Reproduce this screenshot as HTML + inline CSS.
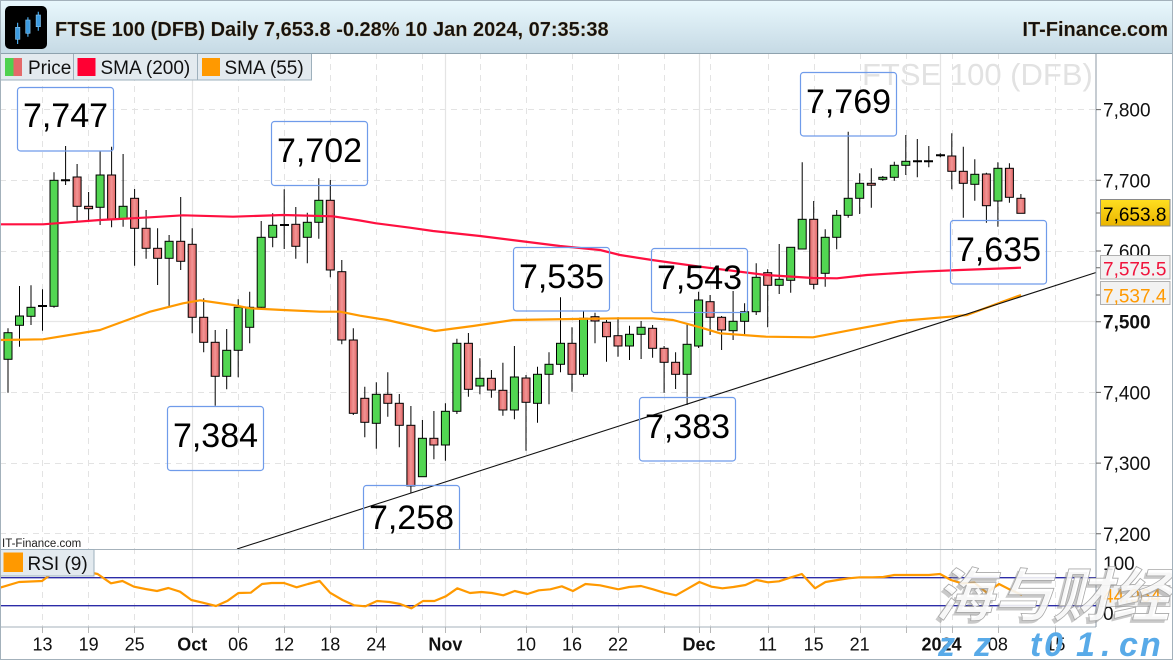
<!DOCTYPE html>
<html><head><meta charset="utf-8"><style>
html,body{margin:0;padding:0;background:#fff;width:1173px;height:660px;overflow:hidden}
svg{display:block}
.g{fill:#52d652;stroke:#000;stroke-width:1}
.r{fill:url(#rg);stroke:#000;stroke-width:1}
</style></head><body>
<svg width="1173" height="660" viewBox="0 0 1173 660" xmlns="http://www.w3.org/2000/svg" font-family="Liberation Sans, Arial, sans-serif">
<defs>
<linearGradient id="tb" x1="0" y1="0" x2="0" y2="1"><stop offset="0" stop-color="#e9f8fd"/><stop offset="1" stop-color="#c6dae5"/></linearGradient>
<linearGradient id="rg" x1="0" y1="0" x2="1" y2="0"><stop offset="0" stop-color="#e06464"/><stop offset="0.5" stop-color="#f29494"/><stop offset="1" stop-color="#e06464"/></linearGradient>
<linearGradient id="yb" x1="0" y1="0" x2="0" y2="1"><stop offset="0" stop-color="#ffdf20"/><stop offset="1" stop-color="#eab400"/></linearGradient>
<clipPath id="pc"><rect x="0" y="53" width="1096" height="496"/></clipPath>
</defs>
<rect width="1173" height="660" fill="#fff"/>

<!-- grid horizontal -->
<g stroke="#e3e3e3" stroke-width="1" stroke-dasharray="6,5" fill="none">
<path d="M0 109.5H1096M0 180.5H1096M0 251.5H1096M0 392.5H1096M0 463.5H1096M0 533.5H1096"/>
</g>
<path d="M0 321.5H1096" stroke="#e6e6e6" stroke-width="1.2"/>
<!-- grid vertical -->
<g stroke="#e3e3e3" stroke-width="1" stroke-dasharray="6,5" fill="none">
<path d="M42.5 53V627M88.5 53V627M134.5 53V627M238.5 53V627M284.5 53V627M330.5 53V627M376.5 53V627M422.5 53V627M480.5 53V627M526.5 53V627M572.5 53V627M618.5 53V627M664.5 53V627M710.5 53V627M768.5 53V627M814.5 53V627M860.5 53V627M906.5 53V627M952.5 53V627M998.5 53V627M1055.5 53V627"/>
</g>
<path d="M192.5 53V627M445.5 53V627M699.5 53V627M940.5 53V627" stroke="#e4e4e4" stroke-width="1.2"/>
<!-- x tick marks -->
<path d="M42.5 627V633M88.5 627V633M134.5 627V633M192.5 627V633M238.5 627V633M284.5 627V633M330.5 627V633M376.5 627V633M422.5 627V633M445.5 627V633M480.5 627V633M526.5 627V633M572.5 627V633M618.5 627V633M664.5 627V633M699.5 627V633M710.5 627V633M768.5 627V633M814.5 627V633M860.5 627V633M906.5 627V633M940.5 627V633M952.5 627V633M998.5 627V633M1055.5 627V633" stroke="#b8b8b8" stroke-width="1"/>

<!-- watermark -->
<text x="862" y="85" font-size="31" fill="#e2e2e2">FTSE 100 (DFB)</text>

<!-- wicks -->
<path stroke="#000" stroke-width="1" fill="none" d="M8 328.3V392.7M19.5 286V346.7M31 285.3V325M42.5 289.3V330.7M54 172.3V307.7M65.6 146V185M77.1 164V221.7M88.6 192V220M100.1 150.7V225M111.6 146.7V227.3M123.1 154V226.7M134.6 189V265.7M146.1 210V258.7M157.6 228.3V285M169.1 235V306.7M180.7 197V270M192.2 228.3V333.3M203.7 298.3V352.3M215.2 330V405.7M226.7 329V389.3M238.2 299.3V377.3M249.7 291.7V343.3M261.2 221V308.3M272.7 213.3V247.3M284.2 189.3V249M295.8 207V258.7M307.3 212.7V263.3M318.8 178.3V238.7M330.3 180V277.3M341.8 260V344.3M353.3 328.3V415M364.8 386.7V437.3M376.3 382.3V448.7M387.8 372.3V416.7M399.3 394V447.3M410.9 406V493.3M422.4 420V476.7M433.9 411V459.3M445.4 403.3V460.7M456.9 338.7V414M468.4 333V396.7M479.9 358.3V394.3M491.4 370V397.7M502.9 362.7V415.7M514.4 346V419.3M526 375V450.7M537.5 366.7V422.7M549 352.3V404.3M560.5 297.3V372.3M572 327.3V391.7M583.5 310.7V376.7M595 312.7V343.3M606.5 320V361.7M618 317.3V356.7M629.5 325.7V360M641.1 321V359M652.6 325V357.7M664.1 346V392.7M675.6 352.3V389M687.1 324.3V405M698.6 291.7V348M710.1 295V335M721.6 316V350M733.1 291V340M744.6 303.3V335M756.2 263.3V315M767.7 269.3V327.3M779.2 244V294M790.7 247.3V292.7M802.2 162.3V249M813.7 201V289.3M825.2 229.3V286.7M836.7 210V249.3M848.2 131.7V217.7M859.7 173.3V214M871.3 168.3V207.7M882.8 176V180.7M894.3 161.7V180.7M905.8 135V175M917.3 139V177.3M928.8 146V167.3M940.3 153.3V157.3M951.8 133.3V189.3M963.3 146.7V217.7M974.8 159.3V200.7M986.4 172.7V222.7M997.9 162.3V226.7M1009.4 163.3V202.7M1020.9 194V213.3"/>
<!-- doji -->
<path stroke="#000" stroke-width="2" d="M38 306H47M61 180.3H70M280 225H289M913 161.3H922M924 161.3H933M936 155.3H945"/>
<!-- bodies -->
<g>
<rect class="g" x="4" y="332.7" width="8" height="26.6"/>
<rect class="g" x="15.5" y="316" width="8" height="9.3"/>
<rect class="g" x="27" y="307.3" width="8" height="9"/>
<rect class="g" x="50" y="180.3" width="8" height="126"/>
<rect class="r" x="73.1" y="177" width="8" height="29.3"/>
<rect class="r" x="84.6" y="206.3" width="8" height="2.4"/>
<rect class="g" x="96.1" y="175" width="8" height="32.3"/>
<rect class="r" x="107.6" y="175" width="8" height="44"/>
<rect class="g" x="119.1" y="206.3" width="8" height="12.7"/>
<rect class="r" x="130.6" y="198.3" width="8" height="30"/>
<rect class="r" x="142.1" y="228.3" width="8" height="20"/>
<rect class="r" x="153.6" y="248.3" width="8" height="10"/>
<rect class="g" x="165.1" y="241.3" width="8" height="17"/>
<rect class="r" x="176.7" y="241.3" width="8" height="20"/>
<rect class="r" x="188.2" y="244.3" width="8" height="73"/>
<rect class="r" x="199.7" y="317.3" width="8" height="25"/>
<rect class="r" x="211.2" y="342.3" width="8" height="34"/>
<rect class="g" x="222.7" y="350.3" width="8" height="26"/>
<rect class="g" x="234.2" y="307.3" width="8" height="43"/>
<rect class="g" x="245.7" y="307.3" width="8" height="20"/>
<rect class="g" x="257.2" y="237.3" width="8" height="70"/>
<rect class="g" x="268.7" y="225.3" width="8" height="12"/>
<rect class="r" x="291.8" y="224.3" width="8" height="22"/>
<rect class="g" x="303.3" y="222.3" width="8" height="15"/>
<rect class="g" x="314.8" y="200.3" width="8" height="22"/>
<rect class="r" x="326.3" y="200.3" width="8" height="69.7"/>
<rect class="r" x="337.8" y="271.7" width="8" height="68.3"/>
<rect class="r" x="349.3" y="340" width="8" height="73.3"/>
<rect class="r" x="360.8" y="398.3" width="8" height="24"/>
<rect class="g" x="372.3" y="394.3" width="8" height="29"/>
<rect class="r" x="383.8" y="394.3" width="8" height="9"/>
<rect class="r" x="395.3" y="403.3" width="8" height="22"/>
<rect class="r" x="406.9" y="425.3" width="8" height="60.7"/>
<rect class="g" x="418.4" y="438.3" width="8" height="38.4"/>
<rect class="r" x="429.9" y="438.3" width="8" height="6.7"/>
<rect class="g" x="441.4" y="411.3" width="8" height="33.7"/>
<rect class="g" x="452.9" y="343.3" width="8" height="68"/>
<rect class="r" x="464.4" y="343.3" width="8" height="46"/>
<rect class="g" x="475.9" y="378.3" width="8" height="7.7"/>
<rect class="r" x="487.4" y="378.3" width="8" height="11.7"/>
<rect class="r" x="498.9" y="390.3" width="8" height="19.7"/>
<rect class="g" x="510.4" y="377" width="8" height="33"/>
<rect class="r" x="522" y="378" width="8" height="24.3"/>
<rect class="g" x="533.5" y="374.3" width="8" height="29"/>
<rect class="g" x="545" y="364.3" width="8" height="10"/>
<rect class="g" x="556.5" y="343.3" width="8" height="21"/>
<rect class="r" x="568" y="343.3" width="8" height="31"/>
<rect class="g" x="579.5" y="318.3" width="8" height="56"/>
<rect class="r" x="591" y="316.7" width="8" height="4.3"/>
<rect class="r" x="602.5" y="322.3" width="8" height="14.4"/>
<rect class="r" x="614" y="335.7" width="8" height="10.3"/>
<rect class="g" x="625.5" y="334.3" width="8" height="11.7"/>
<rect class="g" x="637.1" y="327.3" width="8" height="7"/>
<rect class="r" x="648.6" y="328.3" width="8" height="20"/>
<rect class="r" x="660.1" y="348.3" width="8" height="14"/>
<rect class="r" x="671.6" y="362.3" width="8" height="12"/>
<rect class="g" x="683.1" y="344.3" width="8" height="30"/>
<rect class="g" x="694.6" y="300" width="8" height="46"/>
<rect class="r" x="706.1" y="301.7" width="8" height="15.6"/>
<rect class="r" x="717.6" y="317.3" width="8" height="12.7"/>
<rect class="g" x="729.1" y="321.3" width="8" height="9.4"/>
<rect class="g" x="740.6" y="311.7" width="8" height="9.6"/>
<rect class="g" x="752.2" y="277.3" width="8" height="34.4"/>
<rect class="r" x="763.7" y="272.7" width="8" height="12.6"/>
<rect class="g" x="775.2" y="279.3" width="8" height="6"/>
<rect class="g" x="786.7" y="247.3" width="8" height="33"/>
<rect class="g" x="798.2" y="219.3" width="8" height="29.7"/>
<rect class="r" x="809.7" y="219.3" width="8" height="65"/>
<rect class="g" x="821.2" y="237.3" width="8" height="36"/>
<rect class="g" x="832.7" y="215.3" width="8" height="22"/>
<rect class="g" x="844.2" y="198.3" width="8" height="17"/>
<rect class="g" x="855.7" y="183.3" width="8" height="15"/>
<rect class="r" x="867.3" y="183.3" width="8" height="1.9"/>
<rect class="g" x="878.8" y="177.3" width="8" height="2"/>
<rect class="g" x="890.3" y="165.3" width="8" height="12"/>
<rect class="g" x="901.8" y="161.3" width="8" height="4"/>
<rect class="r" x="947.8" y="156" width="8" height="15.3"/>
<rect class="r" x="959.3" y="171.3" width="8" height="12"/>
<rect class="g" x="970.8" y="174.3" width="8" height="10"/>
<rect class="r" x="982.4" y="174" width="8" height="31.7"/>
<rect class="g" x="993.9" y="168.3" width="8" height="32.7"/>
<rect class="r" x="1005.4" y="168.3" width="8" height="29"/>
<rect class="r" x="1016.9" y="198.3" width="8" height="15"/>
</g>

<!-- SMA 200 -->
<polyline fill="none" stroke="#ff1040" stroke-width="2.2" stroke-linejoin="round" points="0,224.3 43,224.3 100,220 150,217.3 183,215.3 233,216.7 283,215 333,216.3 360,220.5 376,223.3 410,227.7 433,231 480,236 520,241 560,246 600,250 620,255 652,260 700,266.7 766,275 813,278 837,278.3 867,275 920,271.7 960,270 1021,267.7"/>
<!-- SMA 55 -->
<polyline fill="none" stroke="#ff9900" stroke-width="2.2" stroke-linejoin="round" points="0,340 43,339.3 100,330 150,311.7 183,303.3 200,300.3 233,305 250,308.3 283,310 320,311.7 340,311.7 360,315.7 387,320 435,331 473,326 513,320 573,319 620,318.3 653,318.3 673,320 700,327.3 720,333.3 766,336.7 813,337.3 860,328.3 900,321 950,316.7 967,315 1000,302.7 1021,295"/>
<!-- trendline -->
<line x1="237" y1="549" x2="1096" y2="272.5" stroke="#111" stroke-width="1.1"/>

<!-- annotation boxes -->
<g fill="none" stroke="#6f9bea" stroke-width="1.2" clip-path="url(#pc)">
<rect x="17.5" y="87.5" width="96" height="63.5" rx="3"/>
<rect x="271.5" y="121.5" width="96" height="64" rx="3"/>
<rect x="800.5" y="72.5" width="96" height="63.5" rx="3"/>
<rect x="513.5" y="247.5" width="96" height="63.5" rx="3"/>
<rect x="651.5" y="248.5" width="96" height="64" rx="3"/>
<rect x="167.5" y="406.5" width="96" height="64" rx="3"/>
<rect x="639.5" y="397.5" width="96" height="63.5" rx="3"/>
<rect x="363.5" y="485.5" width="96" height="72" rx="3"/>
<rect x="950.5" y="220.5" width="96" height="63.5" rx="3"/>
</g>
<g font-size="34" fill="#000" text-anchor="middle">
<text x="65.5" y="127">7,747</text>
<text x="319.5" y="162">7,702</text>
<text x="848.5" y="113">7,769</text>
<text x="561.5" y="288">7,535</text>
<text x="699.5" y="289">7,543</text>
<text x="215.5" y="447">7,384</text>
<text x="687.5" y="438">7,383</text>
<text x="411.5" y="529">7,258</text>
<text x="998.5" y="261">7,635</text>
</g>

<!-- panel separators / axes -->
<path d="M0 549.5H1096M0 627H1096" stroke="#a6b2bb" stroke-width="1"/>
<path d="M1096 53V627" stroke="#8c99a4" stroke-width="1"/>
<text x="2" y="547" font-size="11.5" fill="#222">IT-Finance.com</text>

<!-- RSI -->
<path d="M0 577.7H1096M0 605.7H1096" stroke="#2c2ca8" stroke-width="1.3"/>
<polyline fill="none" stroke="#ff9900" stroke-width="2.2" stroke-linejoin="round" points="0,587.7 19,582 42,581 54,572 65,567 77,570 88,572 97.6,574 111,583.3 122.5,581 134,586.7 145.4,589 157,591 168.4,588 180,591.7 191.4,600 202.8,602.7 216,606 227.7,600.7 238.4,593 250.7,592.7 262,584 271.7,583 284,583 296.6,587.3 308,584 319.6,581 330,592.7 342.5,600 354,605.3 365.5,606.3 377,601 389.6,602 400,604 411.4,608.3 423,601 434.4,601 445.8,596.3 457.3,588.3 470,593 481.4,592 491.8,593 503.3,595.3 514.7,591 527.4,594 538.8,590.3 550.3,589.3 561.8,586.3 572.9,591 585.5,584 600,585.3 618.3,589.3 629.2,587 641,586 653,589.3 664,592.7 676,595.3 687.7,588.7 699.4,582 711.5,586.7 722.4,588.3 733.4,587 745.5,585 756.4,580 768,582.3 779,581.3 790,577.7 801.8,574 815,588.3 825.5,582 837.6,580 848.5,578.3 860,577.3 872.3,577.3 883.3,577 894.2,575 907,575 918,575 929,575 940,574 951,580 961.8,583.3 974.6,582.7 986.7,592.7 999,584 1009.4,589.3 1022,595"/>

<!-- legends -->
<g stroke="#9eb0bc" stroke-width="1" fill="#e3eaef">
<rect x="0.5" y="53.5" width="73" height="26.5"/>
<rect x="73.5" y="53.5" width="124" height="26.5"/>
<rect x="197.5" y="53.5" width="114" height="26.5"/>
<rect x="0.5" y="549.5" width="93.5" height="26.5"/>
</g>
<rect x="5" y="58" width="8.5" height="18" fill="#4fd14f"/>
<rect x="13.5" y="58" width="8.5" height="18" fill="#e46a6a"/>
<rect x="77.5" y="58" width="18" height="18" fill="#ff0033"/>
<rect x="202" y="58" width="18" height="18" fill="#ff9900"/>
<rect x="3.5" y="552.5" width="19.5" height="19.5" fill="#ff9900"/>
<g font-size="19" fill="#111">
<text x="28" y="74">Price</text>
<text x="100.5" y="74">SMA (200)</text>
<text x="224.5" y="74">SMA (55)</text>
<text x="27.5" y="570">RSI (9)</text>
</g>

<!-- right axis -->
<path d="M1096 109.6H1101M1096 180.3H1101M1096 213H1101M1096 251H1101M1096 267.7H1101M1096 295H1101M1096 321.7H1101M1096 392.4H1101M1096 463.1H1101M1096 533.8H1101M1096 595H1101" stroke="#666" stroke-width="1"/>
<g font-size="19" fill="#111">
<text x="1103" y="116.6">7,800</text>
<text x="1103" y="187.3">7,700</text>
<text x="1103" y="258">7,600</text>
<text x="1103" y="328.7" font-weight="bold">7,500</text>
<text x="1103" y="399.4">7,400</text>
<text x="1103" y="470">7,300</text>
<text x="1103" y="540.8">7,200</text>
<text x="1103" y="570">100</text>
<text x="1103" y="620">0</text>
</g>
<rect x="1100.5" y="199.5" width="69.5" height="26.5" fill="url(#yb)" stroke="#8a8a8a"/>
<text x="1103" y="221" font-size="19" fill="#000">7,653.8</text>
<rect x="1100.5" y="255.5" width="69.5" height="23.5" fill="#f2f2f2" stroke="#b0b0b0"/>
<text x="1103" y="275.7" font-size="19" fill="#f0143c">7,575.5</text>
<rect x="1100.5" y="281.5" width="69.5" height="23" fill="#f2f2f2" stroke="#b0b0b0"/>
<text x="1103" y="302.7" font-size="19" fill="#ff9900">7,537.4</text>
<rect x="1100.5" y="585.5" width="69.5" height="21" fill="#f2f2f2" stroke="#c0c0c0"/>
<text x="1103" y="602.7" font-size="19" fill="#ff9900">44.964</text>

<!-- x axis labels -->
<g font-size="18" fill="#111" text-anchor="middle">
<text x="42.5" y="650.7">13</text>
<text x="88.6" y="650.7">19</text>
<text x="134.6" y="650.7">25</text>
<text x="192.2" y="650.7" font-weight="bold">Oct</text>
<text x="238.2" y="650.7">06</text>
<text x="284.2" y="650.7">12</text>
<text x="330.3" y="650.7">18</text>
<text x="376.3" y="650.7">24</text>
<text x="445.4" y="650.7" font-weight="bold">Nov</text>
<text x="526" y="650.7">10</text>
<text x="572" y="650.7">16</text>
<text x="618" y="650.7">22</text>
<text x="699" y="650.7" font-weight="bold">Dec</text>
<text x="767.7" y="650.7">11</text>
<text x="813.7" y="650.7">15</text>
<text x="859.7" y="650.7">21</text>
<text x="941.5" y="650.7" font-weight="bold">2024</text>
<text x="997.9" y="650.7">08</text>
<text x="1055.4" y="650.7">15</text>
</g>

<!-- title bar -->
<rect x="0" y="0" width="1173" height="53" fill="url(#tb)"/>
<path d="M0 53.5H1173" stroke="#8ea2ae" stroke-width="1"/>
<rect x="5" y="6" width="42" height="43" rx="5" fill="#000"/>
<path d="M17.6 22.7V44M27.9 17.3V36.7M38.3 11.7V30.7" stroke="#4aa8e8" stroke-width="1.2"/>
<rect x="15.5" y="27.3" width="4.4" height="12" fill="#3d9be0" stroke="#8cc8f0" stroke-width="0.6"/>
<rect x="25.7" y="20" width="4.4" height="13.3" fill="#3d9be0" stroke="#8cc8f0" stroke-width="0.6"/>
<rect x="36.1" y="15" width="4.4" height="11.7" fill="#3d9be0" stroke="#8cc8f0" stroke-width="0.6"/>
<text x="55" y="36" font-size="20" font-weight="bold" fill="#111" stroke="#c98a3a" stroke-width="0.35" stroke-opacity="0.6">FTSE 100 (DFB) Daily 7,653.8 -0.28% 10 Jan 2024, 07:35:38</text>
<text x="1168" y="36" font-size="20" font-weight="bold" fill="#111" text-anchor="end" stroke="#c98a3a" stroke-width="0.35" stroke-opacity="0.6">IT-Finance.com</text>

<!-- overlay watermark -->
<g font-weight="bold" font-style="italic">
<text x="932" y="619" font-size="58" fill="#888" fill-opacity="0.45" letter-spacing="1" font-family="Noto Sans CJK SC, WenQuanYi Zen Hei, sans-serif">海与财经</text>
<text x="935" y="616" font-size="58" fill="#fff" fill-opacity="0.85" stroke="#a8a8a8" stroke-width="0.8" letter-spacing="1" font-family="Noto Sans CJK SC, WenQuanYi Zen Hei, sans-serif">海与财经</text>
</g>
<g font-size="34" font-weight="bold" font-style="italic" fill="#58aae8" font-family="Liberation Sans, Arial, sans-serif">
<text x="938" y="656">z</text>
<text x="974" y="656">z</text>
<text x="1030" y="656">t</text>
<text x="1044" y="656">0</text>
<text x="1076" y="656">1</text>
<text x="1101" y="656">.</text>
<text x="1119" y="656">c</text>
<text x="1140" y="656">n</text>
</g>

<!-- outer border -->
<rect x="0.5" y="0.5" width="1172" height="659" fill="none" stroke="#a3b1bb" stroke-width="1"/>
</svg>
</body></html>
